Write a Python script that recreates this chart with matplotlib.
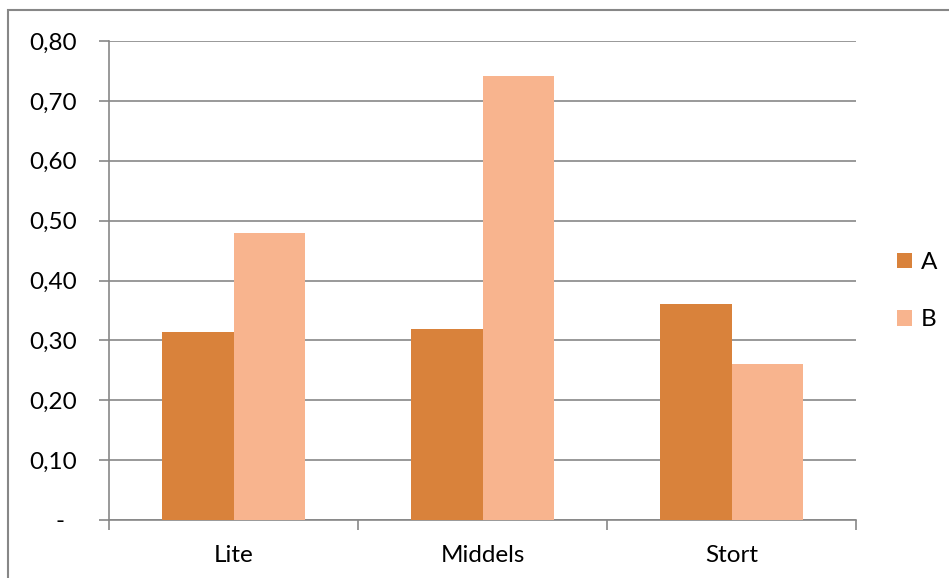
import numpy as np
import matplotlib.pyplot as plt
from matplotlib.patches import Rectangle
from matplotlib.ticker import FuncFormatter

plt.rcParams['font.family'] = ['Lato', 'DejaVu Sans']

# category sizes and the two series
categories = ["Lite", "Middels", "Stort"]
series_a = [0.314, 0.319, 0.360]
series_b = [0.479, 0.742, 0.260]
yticks = [0.0, 0.1, 0.2, 0.3, 0.4, 0.5, 0.6, 0.7, 0.8]

color_a = "#D9823B"
color_b = "#F8B48E"
grid_gray = "#878787"
fs = 17.5

fig = plt.figure(figsize=(9.49, 5.78), dpi=100)
ax = fig.add_axes([109 / 949, 1 - 520 / 578, 747 / 949, 479 / 578])

x = np.arange(len(categories))
w = 0.287
ax.bar(x - w / 2, series_a, width=w, color=color_a, label="A", zorder=3)
ax.bar(x + w / 2, series_b, width=w, color=color_b, label="B", zorder=3)

ax.set_xlim(-0.5, len(categories) - 0.5)
ax.set_ylim(0, 0.8)

# horizontal gridlines
ax.set_yticks(yticks)
ax.yaxis.grid(True, color=grid_gray, linewidth=1.2, zorder=0)
ax.set_axisbelow(True)


def fmt(v, pos):
    if abs(v) < 1e-9:
        return "-  "
    return f"{v:.2f}".replace(".", ",")


ax.yaxis.set_major_formatter(FuncFormatter(fmt))

# category ticks sit between the groups
ax.set_xticks(np.arange(-0.5, len(categories), 1.0))
ax.set_xticklabels([])
ax.set_xticks(x, minor=True)
ax.set_xticklabels(categories, minor=True)
ax.tick_params(axis="x", which="minor", length=0, pad=18, labelsize=fs)
ax.tick_params(axis="x", which="major", direction="out", length=7, width=1.2, color=grid_gray)
ax.tick_params(axis="y", direction="out", length=7, width=1.2, color=grid_gray, pad=16, labelsize=fs)

for side in ["top", "right"]:
    ax.spines[side].set_visible(False)
for side in ["left", "bottom"]:
    ax.spines[side].set_color(grid_gray)
    ax.spines[side].set_linewidth(1.2)

leg = ax.legend(loc="upper left", bbox_to_anchor=(897 / 949, 1 - 252 / 578),
                bbox_transform=fig.transFigure, frameon=False, fontsize=fs,
                handlelength=0.62, handleheight=0.62, handletextpad=0.35,
                labelspacing=1.5, borderpad=0, borderaxespad=0)

# outer chart border
fig.patches.append(Rectangle((8 / 949, -0.1), 1.2, 1 - 10 / 578 + 0.1,
                             transform=fig.transFigure, fill=False,
                             edgecolor=grid_gray, linewidth=1.5))

fig.savefig("out.png", dpi=100)
